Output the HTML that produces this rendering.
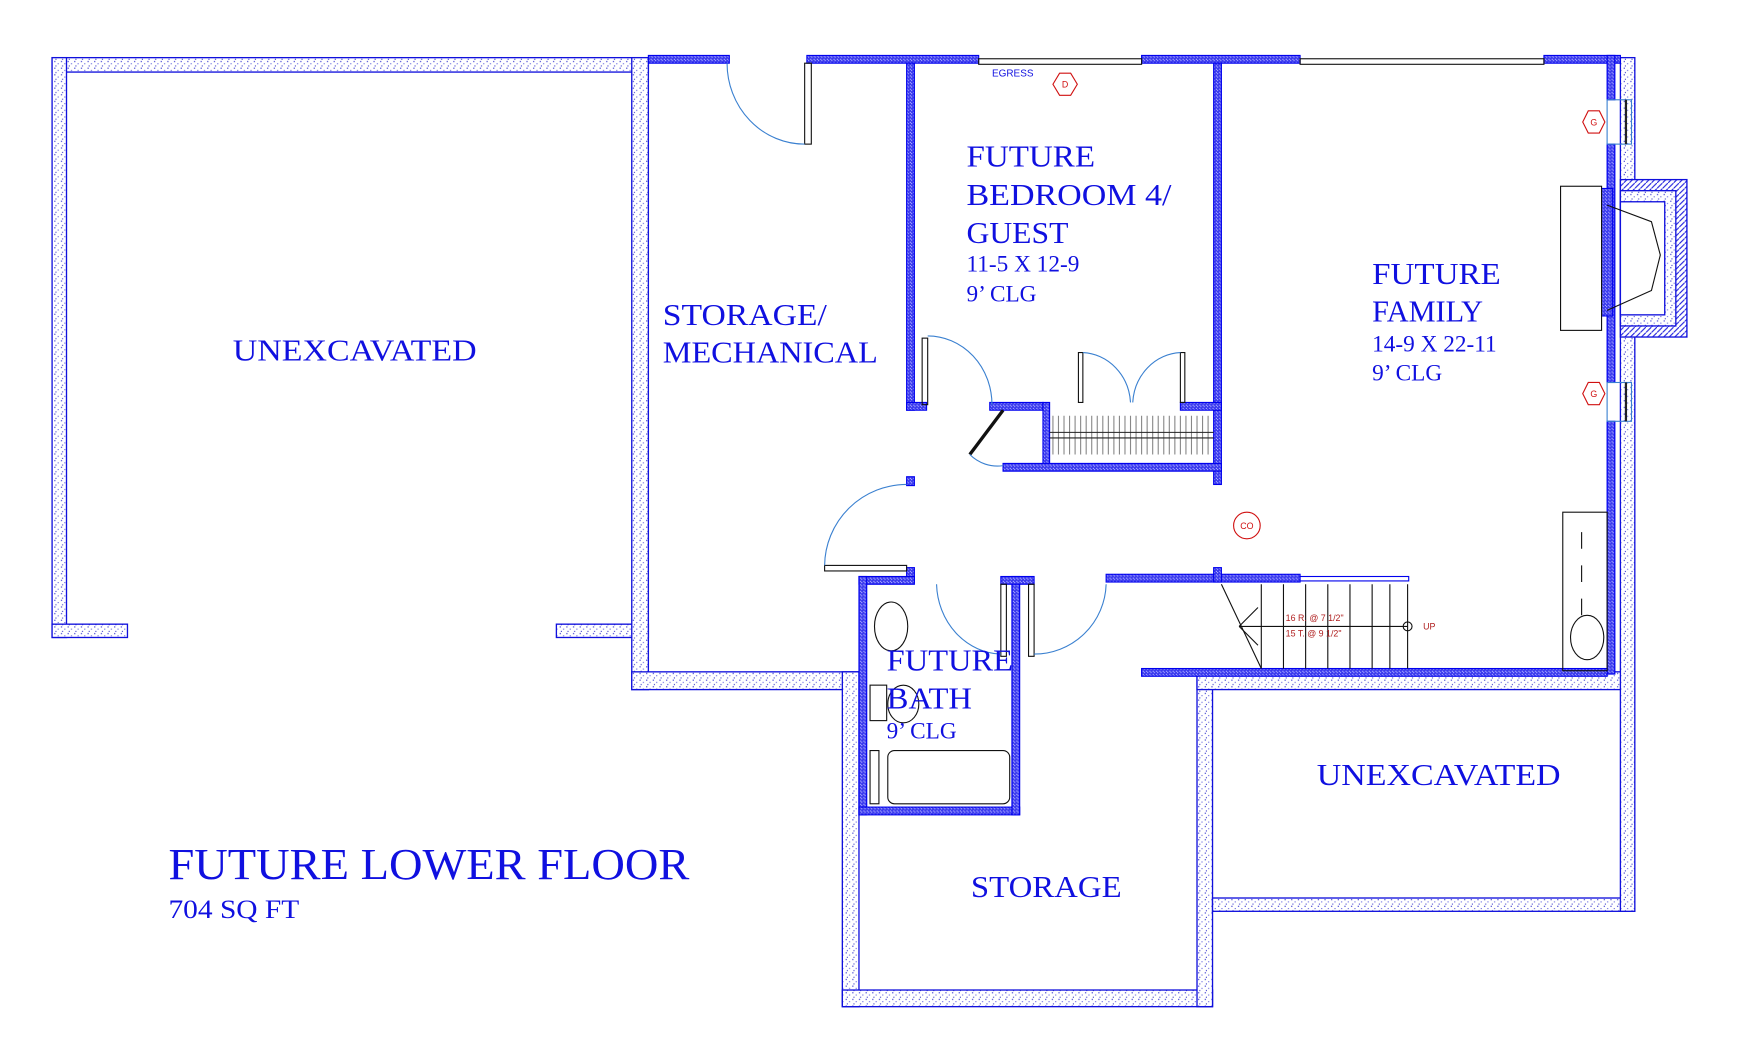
<!DOCTYPE html>
<html><head><meta charset="utf-8"><style>
html,body{margin:0;padding:0;background:#fff;}
svg{display:block;}
text{font-family:"Liberation Serif",serif;fill:#1010e0;}
</style></head><body>
<svg width="1739" height="1051" viewBox="0 0 1569 948" preserveAspectRatio="none" xmlns="http://www.w3.org/2000/svg">
<defs>
<pattern id="dots" width="6" height="6" patternUnits="userSpaceOnUse">
<rect width="6" height="6" fill="#fff"/>
<rect x="1" y="1" width="1" height="1" fill="#2222cc"/>
<rect x="4" y="3" width="1" height="1" fill="#6666dd"/>
<rect x="2" y="5" width="1" height="1" fill="#4444cc"/>
</pattern>
<pattern id="hatch" width="3" height="3" patternUnits="userSpaceOnUse">
<rect width="3" height="3" fill="#3a3aee"/>
<rect width="1" height="1" fill="#b0b0ff"/>
<rect x="2" y="2" width="1" height="1" fill="#b0b0ff"/>
</pattern>
<pattern id="diag" width="5" height="5" patternUnits="userSpaceOnUse">
<rect width="5" height="5" fill="#fff"/>
<path d="M0 5 L5 0" stroke="#2222dd" stroke-width="1"/>
</pattern>
</defs>

<g stroke="#1010dd" stroke-width="1.2">
<rect x="47" y="52" width="538" height="13" fill="url(#dots)"/>
<rect x="47" y="52" width="13" height="523" fill="url(#dots)"/>
<rect x="47" y="563" width="68" height="12" fill="url(#dots)"/>
<rect x="502" y="563" width="83" height="12" fill="url(#dots)"/>
<rect x="570" y="52" width="15" height="570" fill="url(#dots)"/>
<rect x="570" y="606" width="205" height="16" fill="url(#dots)"/>
<rect x="760" y="606" width="15" height="302" fill="url(#dots)"/>
<rect x="760" y="893" width="334" height="15" fill="url(#dots)"/>
<rect x="1080" y="606" width="14" height="302" fill="url(#dots)"/>
<rect x="1080" y="606" width="395" height="16" fill="url(#dots)"/>
<rect x="1094" y="810" width="381" height="12" fill="url(#dots)"/>
<rect x="1462" y="52" width="13" height="770" fill="url(#dots)"/>
<rect x="1462" y="162" width="60" height="142" fill="url(#diag)"/>
<rect x="1462" y="172" width="50" height="122" fill="url(#dots)"/>
<rect x="1462" y="182" width="40" height="102" fill="#fff"/>
</g>

<g fill="url(#hatch)" stroke="#0000ee" stroke-width="1">
<rect x="585" y="50" width="73" height="7"/>
<rect x="728" y="50" width="155" height="7"/>
<rect x="1030" y="50" width="143" height="7"/>
<rect x="1393" y="50" width="69" height="7"/>
<rect x="1450" y="50" width="7" height="40"/>
<rect x="1450" y="130" width="7" height="215"/>
<rect x="1450" y="380" width="7" height="228"/>
<rect x="818" y="57" width="7" height="313"/>
<rect x="818" y="430" width="7" height="8"/>
<rect x="1095" y="57" width="7" height="380"/>
<rect x="818" y="363" width="18" height="7"/>
<rect x="893" y="363" width="48" height="7"/>
<rect x="941" y="363" width="6" height="60"/>
<rect x="905" y="418" width="197" height="7"/>
<rect x="1065" y="363" width="37" height="7"/>
<rect x="998" y="518" width="175" height="7"/>
<rect x="1095" y="512" width="7" height="13"/>
<rect x="818" y="512" width="7" height="13"/>
<rect x="775" y="520" width="50" height="7"/>
<rect x="775" y="520" width="7" height="215"/>
<rect x="775" y="728" width="145" height="7"/>
<rect x="913" y="520" width="7" height="215"/>
<rect x="903" y="520" width="30" height="7"/>
<rect x="1030" y="603" width="420" height="7"/>
<rect x="1445" y="170" width="10" height="115"/>
</g>
<rect x="1173" y="520" width="98" height="4" fill="#fff" stroke="#0000ee" stroke-width="1"/>

<g fill="none" stroke="#111" stroke-width="1">
<rect x="726" y="57" width="6" height="73"/>
<rect x="883" y="53" width="147" height="5"/>
<rect x="1173" y="53" width="220" height="5"/>
<rect x="1408" y="168" width="37" height="130"/>
<path d="M1450 185 L1490 200 L1498 230 L1490 262 L1450 280"/>
<rect x="832" y="305" width="5" height="60"/>
<rect x="973" y="318" width="4" height="45"/>
<rect x="1065" y="318" width="4" height="45"/>
<path d="M905 370 L875 410" stroke-width="3"/>
<rect x="903" y="527" width="5" height="65"/>
<rect x="928" y="527" width="5" height="65"/>
<rect x="744" y="510" width="74" height="5"/>
<rect x="1410" y="462" width="40" height="143"/>
<path d="M1427 480 V495 M1427 510 V525 M1427 540 V555" />
<rect x="801" y="677" width="110" height="48" rx="6"/>
<rect x="785" y="677" width="8" height="48"/>
<ellipse cx="804" cy="565" rx="15" ry="22"/>
<ellipse cx="1432" cy="575" rx="15" ry="20"/>
<rect x="785" y="618" width="15" height="32"/>
<ellipse cx="815" cy="635" rx="14" ry="17"/>
<path d="M1102 527 L1138 603"/>
<path d="M1118 565 H1270 M1138 527 V603 M1158 527 V603 M1178 527 V603 M1198 527 V603 M1218 527 V603 M1238 527 V603 M1254 527 V603 M1270 527 V603"/>
<circle cx="1270" cy="565" r="4"/>
<path d="M1118 565 L1135 548 M1118 565 L1135 582"/>
</g>
<g stroke="#888" stroke-width="1">
<path d="M950 375 V410 M955 375 V410 M960 375 V410 M965 375 V410 M970 375 V410 M975 375 V410 M980 375 V410 M985 375 V410 M990 375 V410 M995 375 V410 M1000 375 V410 M1005 375 V410 M1010 375 V410 M1015 375 V410 M1020 375 V410 M1025 375 V410 M1030 375 V410 M1035 375 V410 M1040 375 V410 M1045 375 V410 M1050 375 V410 M1055 375 V410 M1060 375 V410 M1065 375 V410 M1070 375 V410 M1075 375 V410 M1080 375 V410 M1085 375 V410 M1090 375 V410"/>
</g>
<path d="M947 390 H1095 M947 395 H1095" stroke="#222" stroke-width="1"/>

<g fill="none" stroke="#3a80d0" stroke-width="1">
<path d="M656 57 A70 73 0 0 0 726 130"/>
<path d="M837 303 A58 62 0 0 1 895 365"/>
<path d="M977 318 A45 48 0 0 1 1020 363"/>
<path d="M1065 318 A45 48 0 0 0 1022 363"/>
<path d="M875 410 A35 35 0 0 0 905 420"/>
<path d="M818 437 A74 74 0 0 0 744 510"/>
<path d="M845 527 A60 65 0 0 0 903 590"/>
<path d="M998 527 A65 65 0 0 1 933 590"/>
<rect x="1450" y="90" width="22" height="40"/>
<rect x="1450" y="345" width="22" height="35"/>
</g>
<rect x="1466" y="90" width="2" height="40" fill="#222"/>
<rect x="1466" y="345" width="2" height="35" fill="#222"/>

<g fill="none" stroke="#d01010" stroke-width="1">
<polygon points="950,76 956,66 966,66 972,76 966,86 956,86"/>
<polygon points="1428,110 1433,100 1443,100 1448,110 1443,120 1433,120"/>
<polygon points="1428,355 1433,345 1443,345 1448,355 1443,365 1433,365"/>
<circle cx="1125" cy="474" r="12"/>
</g>
<g font-size="8" text-anchor="middle">
<text x="961" y="79" style="fill:#d01010;font-family:'Liberation Sans',sans-serif">D</text>
<text x="1438" y="113" style="fill:#d01010;font-family:'Liberation Sans',sans-serif">G</text>
<text x="1438" y="358" style="fill:#d01010;font-family:'Liberation Sans',sans-serif">G</text>
<text x="1125" y="477" style="fill:#d01010;font-family:'Liberation Sans',sans-serif">CO</text>
</g>
<g font-size="8">
<text x="1160" y="560" style="fill:#b02020;font-family:'Liberation Sans',sans-serif">16 R. @ 7 1/2"</text>
<text x="1160" y="574" style="fill:#b02020;font-family:'Liberation Sans',sans-serif">15 T. @ 9 1/2"</text>
<text x="1284" y="568" style="fill:#b02020;font-family:'Liberation Sans',sans-serif">UP</text>
<text x="895" y="69" style="fill:#1010e0;font-family:'Liberation Sans',sans-serif" font-size="9">EGRESS</text>
</g>

<g font-size="28">
<text x="210" y="325" textLength="220" lengthAdjust="spacingAndGlyphs">UNEXCAVATED</text>
<text x="598" y="293" textLength="148" lengthAdjust="spacingAndGlyphs">STORAGE/</text>
<text x="598" y="327" textLength="194" lengthAdjust="spacingAndGlyphs">MECHANICAL</text>
<text x="872" y="150" textLength="116" lengthAdjust="spacingAndGlyphs">FUTURE</text>
<text x="872" y="185" textLength="185" lengthAdjust="spacingAndGlyphs">BEDROOM 4/</text>
<text x="872" y="219" textLength="92" lengthAdjust="spacingAndGlyphs">GUEST</text>
<text x="1238" y="256" textLength="116" lengthAdjust="spacingAndGlyphs">FUTURE</text>
<text x="1238" y="290" textLength="100" lengthAdjust="spacingAndGlyphs">FAMILY</text>
<text x="800" y="605" textLength="114" lengthAdjust="spacingAndGlyphs">FUTURE</text>
<text x="800" y="639" textLength="77" lengthAdjust="spacingAndGlyphs">BATH</text>
<text x="876" y="809" textLength="136" lengthAdjust="spacingAndGlyphs">STORAGE</text>
<text x="1188" y="708" textLength="220" lengthAdjust="spacingAndGlyphs">UNEXCAVATED</text>
</g>
<g font-size="21">
<text x="872" y="245">11-5 X 12-9</text>
<text x="872" y="272">9’ CLG</text>
<text x="1238" y="317">14-9 X 22-11</text>
<text x="1238" y="343">9’ CLG</text>
<text x="800" y="666">9’ CLG</text>
</g>
<text x="152" y="793" font-size="40" textLength="470" lengthAdjust="spacingAndGlyphs">FUTURE LOWER FLOOR</text>
<text x="152" y="828" font-size="24" textLength="118" lengthAdjust="spacingAndGlyphs">704 SQ FT</text>
</svg>
</body></html>
